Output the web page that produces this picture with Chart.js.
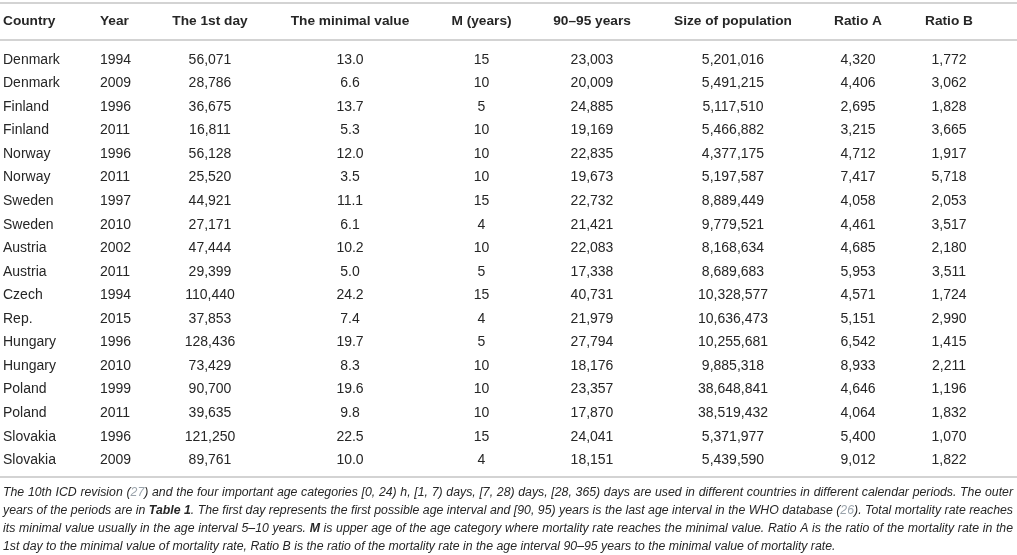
<!DOCTYPE html>
<html>
<head>
<meta charset="utf-8">
<script src="https://cdn.jsdelivr.net/npm/chart.js@4.4.1/dist/chart.umd.min.js"></script>
<style>
  html, body { margin: 0; padding: 0; background: #fff; }
  #wrap { width: 1017px; height: 555px; }
</style>
</head>
<body>
<div id="wrap"><canvas id="tableChart" width="1017" height="555"></canvas></div>
<script>
// table content
const headers = ['Country', 'Year', 'The 1st day', 'The minimal value', 'M (years)', '90\u201395 years', 'Size of population', 'Ratio A', 'Ratio B'];
const countries = ['Denmark', 'Denmark', 'Finland', 'Finland', 'Norway', 'Norway', 'Sweden', 'Sweden', 'Austria', 'Austria', 'Czech', 'Rep.', 'Hungary', 'Hungary', 'Poland', 'Poland', 'Slovakia', 'Slovakia'];
const years = [1994, 2009, 1996, 2011, 1996, 2011, 1997, 2010, 2002, 2011, 1994, 2015, 1996, 2010, 1999, 2011, 1996, 2009];
const firstDay = [56071, 28786, 36675, 16811, 56128, 25520, 44921, 27171, 47444, 29399, 110440, 37853, 128436, 73429, 90700, 39635, 121250, 89761];
const minimal = [13.0, 6.6, 13.7, 5.3, 12.0, 3.5, 11.1, 6.1, 10.2, 5.0, 24.2, 7.4, 19.7, 8.3, 19.6, 9.8, 22.5, 10.0];
const mYears = [15, 10, 5, 10, 10, 10, 15, 4, 10, 5, 15, 4, 5, 10, 10, 10, 15, 4];
const years9095 = [23003, 20009, 24885, 19169, 22835, 19673, 22732, 21421, 22083, 17338, 40731, 21979, 27794, 18176, 23357, 17870, 24041, 18151];
const population = [5201016, 5491215, 5117510, 5466882, 4377175, 5197587, 8889449, 9779521, 8168634, 8689683, 10328577, 10636473, 10255681, 9885318, 38648841, 38519432, 5371977, 5439590];
const ratioA = [4320, 4406, 2695, 3215, 4712, 7417, 4058, 4461, 4685, 5953, 4571, 5151, 6542, 8933, 4646, 4064, 5400, 9012];
const ratioB = [1772, 3062, 1828, 3665, 1917, 5718, 2053, 3517, 2180, 3511, 1724, 2990, 1415, 2211, 1196, 1832, 1070, 1822];

// footnote, one entry per printed line: [text, style]
const notes = [
  [['The 10th ICD revision (', 'i'], ['27', 'ref'], [') and the four important age categories [0, 24) h, [1, 7) days, [7, 28) days, [28, 365) days are used in different countries in different calendar periods. The outer', 'i']],
  [['years of the periods are in ', 'i'], ['Table 1', 'b'], ['. The first day represents the first possible age interval and [90, 95) years is the last age interval in the WHO database (', 'i'], ['26', 'ref'], ['). Total mortality rate reaches', 'i']],
  [['its minimal value usually in the age interval 5\u201310 years. ', 'i'], ['M', 'b'], [' is upper age of the age category where mortality rate reaches the minimal value. Ratio A is the ratio of the mortality rate in the', 'i']],
  [['1st day to the minimal value of mortality rate, Ratio B is the ratio of the mortality rate in the age interval 90\u201395 years to the minimal value of mortality rate.', 'i']]
];

// layout
const FONT = '"Liberation Sans", Arial, Helvetica, sans-serif';
const colX = [3, 100, 210, 350, 481.5, 592, 733, 858, 949];
const colAlign = ['left', 'left', 'center', 'center', 'center', 'center', 'center', 'center', 'center'];
const textColor = '#262626';
const ruleColor = '#c4c4c4';

const fmt = n => n.toLocaleString('en-US');
const columns = [
  countries,
  years.map(String),
  firstDay.map(fmt),
  minimal.map(v => v.toFixed(1)),
  mYears.map(String),
  years9095.map(fmt),
  population.map(fmt),
  ratioA.map(fmt),
  ratioB.map(fmt)
];

const datasets = columns.map((col, c) => ({
  label: headers[c],
  data: col.map((t, r) => ({ x: colX[c], y: r, text: t })),
  pointRadius: 0,
  pointHoverRadius: 0
}));

function noteTokens(line) {
  const out = [];
  let gap = false;
  line.forEach(([text, style]) => {
    text.split(' ').forEach((p, k) => {
      if (k > 0) gap = true;
      if (p === '') return;
      out.push({ text: p, style: style, gap: gap && out.length > 0 });
      gap = false;
    });
  });
  return out;
}

function noteFont(style) {
  return (style === 'b' ? 'italic bold ' : 'italic ') + '12.3px ' + FONT;
}

const tablePlugin = {
  id: 'tableText',
  afterDatasetsDraw(chart) {
    const ctx = chart.ctx;
    const area = chart.chartArea;
    const xs = chart.scales.x;
    ctx.save();

    // rules
    ctx.strokeStyle = ruleColor;
    ctx.lineWidth = 1.5;
    [area.top - 45, area.top - 8, area.bottom + 5].forEach(y => {
      ctx.beginPath();
      ctx.moveTo(0, y);
      ctx.lineTo(chart.width, y);
      ctx.stroke();
    });

    // header row
    ctx.fillStyle = textColor;
    ctx.textBaseline = 'middle';
    ctx.font = 'bold 13.7px ' + FONT;
    headers.forEach((h, c) => {
      ctx.textAlign = colAlign[c];
      ctx.fillText(h, xs.getPixelForValue(colX[c]), area.top - 27);
    });

    // cells
    ctx.font = '14px ' + FONT;
    chart.data.datasets.forEach((ds, c) => {
      const meta = chart.getDatasetMeta(c);
      ctx.textAlign = colAlign[c];
      meta.data.forEach((pt, r) => {
        ctx.fillText(ds.data[r].text, pt.x, pt.y);
      });
    });

    // footnote, justified
    ctx.textAlign = 'left';
    const left = 3, right = 1013;
    notes.forEach((line, i) => {
      const toks = noteTokens(line);
      let wordsW = 0, gaps = 0;
      toks.forEach(t => {
        ctx.font = noteFont(t.style);
        t.w = ctx.measureText(t.text).width;
        wordsW += t.w;
        if (t.gap) gaps++;
      });
      ctx.font = noteFont('i');
      let gapW = ctx.measureText(' ').width;
      if (i < notes.length - 1 && gaps > 0) gapW = (right - left - wordsW) / gaps;
      let x = left;
      const y = area.bottom + 21 + i * 18;
      toks.forEach(t => {
        if (t.gap) x += gapW;
        ctx.font = noteFont(t.style);
        ctx.fillStyle = t.style === 'ref' ? '#9aa3ab' : textColor;
        ctx.fillText(t.text, x, y);
        x += t.w;
      });
    });
    ctx.restore();
  }
};

new Chart(document.getElementById('tableChart'), {
  type: 'scatter',
  data: { datasets: datasets },
  options: {
    responsive: false,
    animation: false,
    events: [],
    layout: { padding: { top: 48, bottom: 83, left: 0, right: 0 } },
    plugins: { legend: { display: false }, tooltip: { enabled: false } },
    scales: {
      x: { type: 'linear', min: 0, max: 1017, display: false },
      y: { type: 'linear', min: -0.5, max: 17.5, reverse: true, display: false }
    }
  },
  plugins: [tablePlugin]
});
</script>
</body>
</html>
